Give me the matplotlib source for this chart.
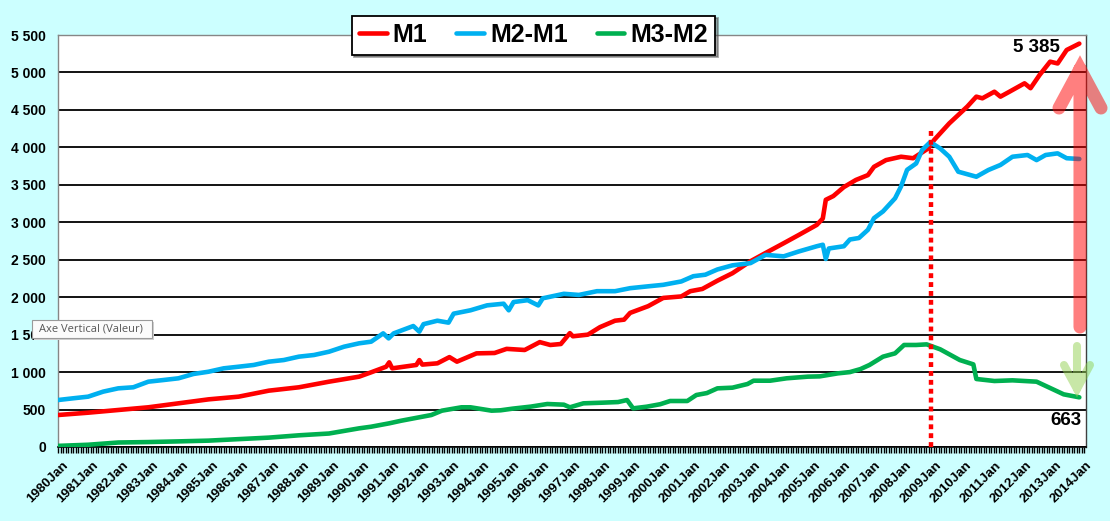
import matplotlib
matplotlib.use("Agg")
import matplotlib.pyplot as plt
import matplotlib.transforms as mtransforms
from matplotlib.path import Path
from matplotlib.patches import PathPatch, Rectangle
from matplotlib.ticker import MultipleLocator

# ---------------- data (decimal years, values) ----------------
m1_years = [1980.0, 1981.0, 1982.0, 1983.0, 1984.0, 1985.0, 1986.0, 1987.0, 1988.0, 1989.0,
            1990.0, 1990.4, 1990.9, 1991.0, 1991.1, 1991.9, 1992.0, 1992.1, 1992.6, 1993.0,
            1993.25, 1993.9, 1994.5, 1994.9, 1995.5, 1996.0, 1996.35, 1996.7, 1997.0, 1997.1,
            1997.6, 1998.0, 1998.5, 1998.8, 1999.0, 1999.6, 2000.1, 2000.7, 2001.0, 2001.4,
            2001.9, 2002.4, 2003.0, 2003.5, 2004.1, 2004.6, 2005.2, 2005.4, 2005.5, 2005.75,
            2006.1, 2006.5, 2006.9, 2007.1, 2007.5, 2008.0, 2008.4, 2008.9, 2009.1, 2009.6,
            2010.2, 2010.5, 2010.7, 2011.1, 2011.3, 2011.6, 2012.1, 2012.3, 2012.6, 2012.95,
            2013.2, 2013.5, 2013.92]
m1_values = [427, 458, 494, 530, 583, 636, 672, 752, 797, 872,
             939, 997, 1072, 1130, 1050, 1095, 1160, 1100, 1117, 1200,
             1139, 1250, 1255, 1310, 1295, 1400, 1362, 1375, 1520, 1478,
             1500, 1600, 1686, 1700, 1790, 1880, 1990, 2010, 2080, 2110,
             2220, 2320, 2480, 2590, 2720, 2830, 2965, 3050, 3300, 3350,
             3470, 3565, 3630, 3740, 3830, 3875, 3855, 3985, 4100, 4320,
             4545, 4677, 4655, 4743, 4677, 4743, 4855, 4790, 4966, 5144,
             5120, 5300, 5385]

m2m1_years = [1980.0, 1980.5, 1981.0, 1981.5, 1982.0, 1982.5, 1983.0, 1983.5, 1984.0, 1984.5,
              1985.0, 1985.5, 1986.0, 1986.5, 1987.0, 1987.5, 1988.0, 1988.5, 1989.0, 1989.5,
              1990.0, 1990.4, 1990.8, 1990.98, 1991.15, 1991.8, 1992.0, 1992.14, 1992.6, 1992.97,
              1993.14, 1993.7, 1994.25, 1994.8, 1994.97, 1995.13, 1995.6, 1995.95, 1996.1, 1996.8,
              1997.3, 1997.9, 1998.5, 1999.0, 1999.6, 2000.1, 2000.7, 2001.1, 2001.5, 2001.9,
              2002.4, 2003.0, 2003.5, 2004.1, 2004.6, 2005.2, 2005.4, 2005.5, 2005.6, 2006.1,
              2006.3, 2006.6, 2006.9, 2007.1, 2007.4, 2007.8, 2008.0, 2008.2, 2008.5, 2008.7,
              2008.97, 2009.3, 2009.6, 2009.9, 2010.5, 2010.9, 2011.3, 2011.7, 2012.2, 2012.5,
              2012.8, 2013.2, 2013.5, 2013.92]
m2m1_values = [627, 650, 672, 739, 783, 797, 872, 894, 917, 975,
               1005, 1050, 1072, 1095, 1139, 1161, 1206, 1228, 1272, 1339,
               1384, 1406, 1517, 1450, 1517, 1615, 1540, 1640, 1686, 1660,
               1780, 1825, 1891, 1913, 1825, 1935, 1960, 1890, 1985, 2045,
               2030, 2080, 2080, 2120, 2145, 2165, 2210, 2280, 2300, 2370,
               2425, 2455, 2565, 2545, 2610, 2680, 2700, 2510, 2650, 2680,
               2770, 2790, 2900, 3055, 3145, 3320, 3480, 3700, 3785, 3965,
               4070, 3985, 3875, 3675, 3608, 3698, 3765, 3875, 3898, 3830,
               3898, 3920, 3855, 3845]

m3m2_years = [1980.0, 1981.0, 1982.0, 1983.0, 1984.0, 1985.0, 1986.0, 1987.0, 1988.0, 1989.0,
              1990.0, 1990.4, 1991.0, 1991.4, 1992.4, 1992.75, 1993.4, 1993.7, 1994.4, 1994.7,
              1995.1, 1995.7, 1996.25, 1996.8, 1997.0, 1997.45, 1998.1, 1998.6, 1998.9, 1999.1,
              1999.55, 2000.0, 2000.33, 2000.9, 2001.2, 2001.55, 2001.9, 2002.4, 2002.9, 2003.1,
              2003.65, 2004.2, 2004.9, 2005.3, 2005.9, 2006.3, 2006.65, 2006.95, 2007.4, 2007.8,
              2008.1, 2008.5, 2008.85, 2009.3, 2009.95, 2010.4, 2010.5, 2011.1, 2011.7, 2012.5,
              2012.9, 2013.4, 2013.92]
m3m2_values = [15, 30, 60, 66, 75, 85, 105, 125, 156, 180,
               249, 271, 316, 351, 427, 485, 530, 530, 485, 490,
               512, 539, 574, 565, 530, 583, 592, 600, 627, 516,
               538, 571, 614, 614, 694, 720, 783, 792, 841, 885,
               885, 917, 939, 943, 983, 1000, 1040, 1095, 1206, 1250,
               1362, 1362, 1370, 1304, 1161, 1103, 908, 881, 890, 872,
               797, 703, 663]

series_names = ["M1", "M2-M1", "M3-M2"]
series_colors = ["#FF0000", "#00B0F0", "#00B050"]

first_year = 1980
last_label_year = 2014
year_labels = [f"{y}Jan" for y in range(first_year, last_label_year + 1)]
y_ticks = list(range(0, 5501, 500))
crisis_year = 2009.0
crisis_top = 4250


def to_month(years):
    return [(y - first_year) * 12 for y in years]


# ---------------- figure ----------------
W, H = 1110, 521
FONT = "Liberation Sans"
plt.rcParams["font.family"] = [FONT, "DejaVu Sans"]

fig = plt.figure(figsize=(W / 100, H / 100), dpi=100, facecolor="#CCFFFF")
ax = fig.add_axes([58 / W, 74 / H, 1028 / W, 412 / H])
ax.set_facecolor("white")

handles = []
for yrs, vals, name, col in zip([m1_years, m2m1_years, m3m2_years],
                                [m1_values, m2m1_values, m3m2_values],
                                series_names, series_colors):
    h, = ax.plot(to_month(yrs), vals, color=col, lw=3.3, solid_capstyle="round",
                 solid_joinstyle="round", label=name, zorder=3)
    handles.append(h)

ax.set_xlim(0, 409.7)
ax.set_ylim(0, 5500)

# y axis
ax.set_yticks(y_ticks)
ax.set_yticklabels([f"{v:,}".replace(",", " ") for v in y_ticks],
                   fontsize=10, fontweight="bold", color="black")
ax.tick_params(axis="y", length=0, pad=8.5)
ax.yaxis.grid(True, color="black", lw=1.3, zorder=1)
ax.set_axisbelow(True)

# x axis
major_pos = [i * 12 for i in range(len(year_labels))]
ax.set_xticks(major_pos)
ax.xaxis.set_minor_locator(MultipleLocator(1))
ax.tick_params(axis="x", which="both", direction="out", length=4, width=1, color="black", pad=5)
ax.set_xticklabels(year_labels, fontsize=9.6, fontweight="bold", rotation=45,
                   ha="right", va="top", rotation_mode="anchor")
offset = mtransforms.ScaledTranslation(4 / 100, 0, fig.dpi_scale_trans)
for lab in ax.get_xticklabels():
    lab.set_transform(lab.get_transform() + offset)

ax.spines["bottom"].set_color("black")
ax.spines["bottom"].set_linewidth(1.2)
ax.spines["left"].set_color("#868686")
ax.spines["top"].set_color("#868686")
ax.spines["right"].set_color("#404040")
for s in ["left", "top", "right"]:
    ax.spines[s].set_linewidth(1.0)

# crisis dotted line
crisis_m = to_month([crisis_year])[0]
ax.vlines(crisis_m, 0, crisis_top, colors="#FF0000", lw=3.2, linestyles=(0, (1.1, 0.9)), zorder=4)

# end value annotations
ax.annotate(f"{m1_values[-1]:,}".replace(",", " "), xy=(to_month([m1_years[-1]])[0], m1_values[-1]),
            xytext=(-31, -3), textcoords="offset points", ha="center", va="center",
            fontsize=13.5, fontweight="bold", color="black", zorder=6)
ax.annotate(f"{m3m2_values[-1]:,}".replace(",", " "), xy=(to_month([m3m2_years[-1]])[0], m3m2_values[-1]),
            xytext=(-9.5, -16.5), textcoords="offset points", ha="center", va="center",
            fontsize=13.5, fontweight="bold", color="black", zorder=6)

# legend
leg = fig.legend(handles, series_names, loc="center", bbox_to_anchor=(533.5 / W, 1 - 35 / H),
                 ncol=3, prop=dict(family=FONT, weight="bold", size=18), frameon=True,
                 fancybox=False, edgecolor="black", framealpha=1, shadow=True,
                 handlelength=1.1, handletextpad=0.25, columnspacing=1.15, borderpad=0.3,
                 borderaxespad=0)
leg.get_frame().set_linewidth(1.3)

# arrows (pixel coordinates, origin top-left)
pix = mtransforms.Affine2D().scale(1 / W, -1 / H).translate(0, 1) + fig.transFigure
M, L = Path.MOVETO, Path.LINETO
red_path = Path([(1080, 327), (1080, 69), (1059, 108), (1080, 69), (1101, 108)], [M, L, M, L, L])
fig.patches.append(PathPatch(red_path, transform=pix, fill=False, edgecolor="#FF0000", alpha=0.5,
                             lw=9.4, capstyle="round", joinstyle="miter", zorder=10))
green_path = Path([(1077, 346), (1077, 389), (1064, 365), (1077, 389), (1090, 365)], [M, L, M, L, L])
fig.patches.append(PathPatch(green_path, transform=pix, fill=False, edgecolor="#92D050", alpha=0.5,
                             lw=5.8, capstyle="round", joinstyle="miter", zorder=10))

# tooltip box from the screenshot
fig.patches.append(Rectangle((34, 322), 120, 18, transform=pix, fc="#D0D0D0", ec="none", zorder=11))
fig.patches.append(Rectangle((32, 320), 120, 18, transform=pix, fc="#FBFBFB", ec="#9A9A9A", lw=0.8, zorder=12))
fig.text(91 / W, 1 - 329 / H, "Axe Vertical (Valeur)", ha="center", va="center", fontsize=8,
         family="Open Sans", color="#575757", zorder=13)

fig.savefig("out.png", dpi=100, facecolor=fig.get_facecolor())
